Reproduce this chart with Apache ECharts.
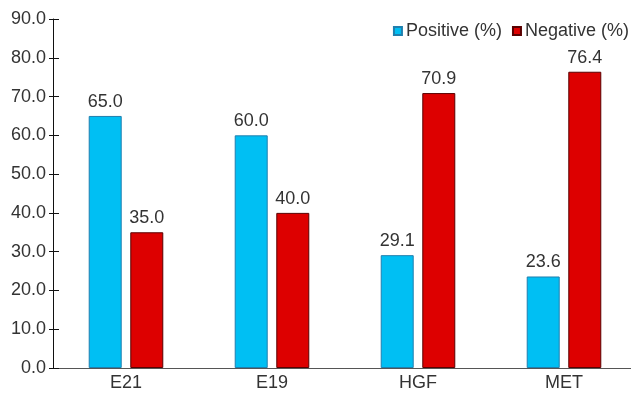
<!DOCTYPE html>
<html>
<head>
<meta charset="utf-8">
<script src="https://cdn.jsdelivr.net/npm/echarts@6/dist/echarts.min.js"></script>
<style>
  html, body { margin: 0; padding: 0; background: #fff; overflow: hidden; }
  /* the category axis runs slightly past the right edge of the view */
  #chart { width: 637px; height: 394px; }
</style>
</head>
<body>
<div id="chart"></div>
<script>
// Marker categories and positive / negative percentages
const categories = ['E21', 'E19', 'HGF', 'MET'];
const positiveValues = [65.0, 60.0, 29.1, 23.6];
const negativeValues = [35.0, 40.0, 70.9, 76.4];
const yTicks = [0, 10, 20, 30, 40, 50, 60, 70, 80, 90];

const FONT = '"Liberation Sans", Arial, Helvetica, sans-serif';
const TEXT = '#333333';

const chart = echarts.init(document.getElementById('chart'), null, { renderer: 'canvas' });

const labelStyle = {
  show: true,
  position: 'top',
  distance: 5,
  color: TEXT,
  fontFamily: FONT,
  fontSize: 18,
  formatter: p => p.value.toFixed(1)
};

chart.setOption({
  animation: false,
  grid: { left: 53, right: 0, top: 19, bottom: 26, containLabel: false },
  legend: {
    right: 8,
    top: 22,
    padding: 0,
    itemWidth: 8,
    itemHeight: 8,
    itemGap: 10,
    icon: 'rect',
    textStyle: { color: TEXT, fontFamily: FONT, fontSize: 18, padding: [0, 0, 0, -1] },
    data: ['Positive (%)', 'Negative (%)']
  },
  xAxis: {
    type: 'category',
    data: categories,
    axisLine: { lineStyle: { color: '#555555', width: 1 } },
    axisTick: { show: false },
    axisLabel: { color: TEXT, fontFamily: FONT, fontSize: 18, margin: 6 }
  },
  yAxis: [
    {
      type: 'value',
      min: yTicks[0],
      max: yTicks[yTicks.length - 1],
      interval: 10,
      axisLine: { show: true, lineStyle: { color: '#111111', width: 1 } },
      axisTick: { show: true, length: 4, lineStyle: { color: '#111111' } },
      splitLine: { show: false },
      axisLabel: {
        color: TEXT, fontFamily: FONT, fontSize: 18, margin: 7,
        formatter: v => v.toFixed(1)
      }
    },
    {
      // inner half of the crossing tick marks
      type: 'value',
      position: 'left',
      min: yTicks[0],
      max: yTicks[yTicks.length - 1],
      interval: 10,
      axisLine: { show: false },
      axisTick: { show: true, inside: true, length: 6, lineStyle: { color: '#111111' } },
      splitLine: { show: false },
      axisLabel: { show: false }
    }
  ],
  series: [
    {
      name: 'Positive (%)',
      type: 'bar',
      data: positiveValues,
      barWidth: 33,
      barGap: '26%',
      itemStyle: { color: '#00BFF3', borderColor: '#1F7FAE', borderWidth: 1 },
      label: labelStyle
    },
    {
      name: 'Negative (%)',
      type: 'bar',
      data: negativeValues,
      barWidth: 33,
      barGap: '26%',
      itemStyle: { color: '#DD0000', borderColor: '#5A0000', borderWidth: 1 },
      label: labelStyle
    }
  ]
});
</script>
</body>
</html>
